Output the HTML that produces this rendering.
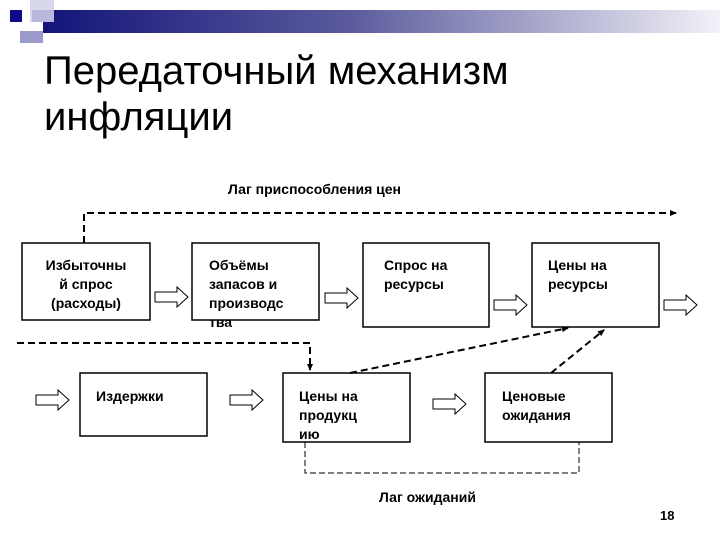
<!DOCTYPE html>
<html><head><meta charset="utf-8"><style>
html,body{margin:0;padding:0;background:#fff}
svg{display:block}
.t{font-family:"Liberation Sans",sans-serif;font-weight:bold;font-size:14px;fill:#000}
</style></head><body>
<svg width="720" height="540" xmlns="http://www.w3.org/2000/svg">
<defs>
<linearGradient id="g" x1="0" x2="1" y1="0" y2="0">
<stop offset="0" stop-color="#14147a"/><stop offset="0.45" stop-color="#5a5a9c"/><stop offset="1" stop-color="#f2f2f8"/></linearGradient>
<marker id="a" markerWidth="8" markerHeight="8" refX="6" refY="3" orient="auto" markerUnits="userSpaceOnUse"><path d="M0,0 L7,3 L0,6z" fill="#000"/></marker>
</defs>
<rect x="30" y="0" width="24" height="22" fill="#d8d8ec"/>
<rect x="43" y="10" width="677" height="23" fill="url(#g)"/>
<rect x="32" y="10" width="22" height="12" fill="#b8b8dc"/>
<rect x="10" y="10" width="12" height="12" fill="#0c0c8a"/>
<rect x="20" y="31" width="23" height="12" fill="#9a9acc"/>
<text x="44" y="84" font-family="Liberation Sans,sans-serif" font-size="40" fill="#000">Передаточный механизм</text>
<text x="44" y="130" font-family="Liberation Sans,sans-serif" font-size="40" fill="#000">инфляции</text>
<text class="t" x="228" y="194" font-size="14">Лаг приспособления цен</text>
<g fill="none" stroke="#000" stroke-width="1.5">
<rect x="22" y="243" width="128" height="77"/>
<rect x="192" y="243" width="127" height="77"/>
<rect x="363" y="243" width="126" height="84"/>
<rect x="532" y="243" width="127" height="84"/>
<rect x="80" y="373" width="127" height="63"/>
<rect x="283" y="373" width="127" height="69"/>
<rect x="485" y="373" width="127" height="69"/>
</g>
<g fill="none" stroke="#000" stroke-width="2" stroke-dasharray="7,4">
<path d="M84,243 V213 H676" marker-end="url(#a)"/>
<path d="M17,343 H310 V370" marker-end="url(#a)"/>
<path d="M350,373 L568,328" marker-end="url(#a)"/>
<path d="M551,373 L604,330" marker-end="url(#a)"/>
</g>
<path d="M305,442 V473 H579 V442" fill="none" stroke="#000" stroke-width="1" stroke-dasharray="6,3"/>
<g fill="#fff" stroke="#000" stroke-width="1">
<path d="M155,292 h22 v-5 l11,10 l-11,10 v-5 h-22z"/>
<path d="M325,293 h22 v-5 l11,10 l-11,10 v-5 h-22z"/>
<path d="M494,300 h22 v-5 l11,10 l-11,10 v-5 h-22z"/>
<path d="M664,300 h22 v-5 l11,10 l-11,10 v-5 h-22z"/>
<path d="M36,395 h22 v-5 l11,10 l-11,10 v-5 h-22z"/>
<path d="M230,395 h22 v-5 l11,10 l-11,10 v-5 h-22z"/>
<path d="M433,399 h22 v-5 l11,10 l-11,10 v-5 h-22z"/>
</g>
<g class="t">
<text x="86" y="270" text-anchor="middle">Избыточны</text>
<text x="86" y="289" text-anchor="middle">й спрос</text>
<text x="86" y="308" text-anchor="middle">(расходы)</text>
<text x="209" y="270">Объёмы</text>
<text x="209" y="289">запасов и</text>
<text x="209" y="308">производс</text>
<text x="209" y="327">тва</text>
<text x="384" y="270">Спрос на</text>
<text x="384" y="289">ресурсы</text>
<text x="548" y="270">Цены на</text>
<text x="548" y="289">ресурсы</text>
<text x="96" y="401">Издержки</text>
<text x="299" y="401">Цены на</text>
<text x="299" y="420">продукц</text>
<text x="299" y="439">ию</text>
<text x="502" y="401">Ценовые</text>
<text x="502" y="420">ожидания</text>
<text x="379" y="502">Лаг ожиданий</text>
<text x="660" y="520" font-size="13">18</text>
</g>
</svg>
</body></html>
